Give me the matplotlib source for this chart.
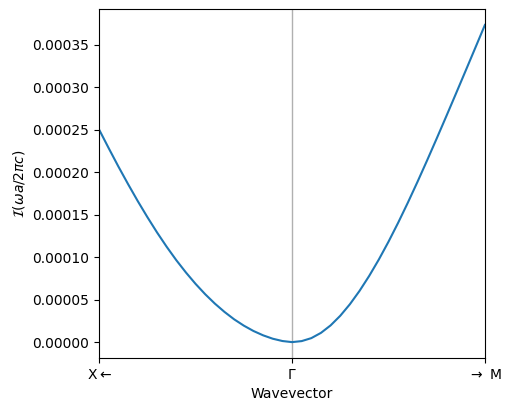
import numpy as np
import matplotlib
matplotlib.use("Agg")
import matplotlib.pyplot as plt

# path coordinate: X (-1) -> Gamma (0) -> M (1)
k_xg = [-1.00, -0.95, -0.90, -0.85, -0.80, -0.75, -0.70, -0.65, -0.60, -0.55, -0.50,
        -0.45, -0.40, -0.35, -0.30, -0.25, -0.20, -0.15, -0.10, -0.05, 0.00]
im_xg = [2.500e-4, 2.280e-4, 2.065e-4, 1.859e-4, 1.660e-4, 1.471e-4, 1.291e-4, 1.122e-4,
         9.64e-5, 8.19e-5, 6.85e-5, 5.63e-5, 4.53e-5, 3.55e-5, 2.68e-5, 1.94e-5, 1.31e-5,
         8.0e-6, 4.0e-6, 1.3e-6, 0.0]
k_gm = [0.00, 0.05, 0.10, 0.15, 0.20, 0.25, 0.30, 0.35, 0.40, 0.45, 0.50,
        0.55, 0.60, 0.65, 0.70, 0.75, 0.80, 0.85, 0.90, 0.95, 1.00]
im_gm = [0.0, 1.2e-6, 4.7e-6, 1.09e-5, 1.97e-5, 3.10e-5, 4.46e-5, 6.03e-5, 7.79e-5,
         9.72e-5, 1.181e-4, 1.404e-4, 1.639e-4, 1.884e-4, 2.137e-4, 2.396e-4, 2.659e-4,
         2.925e-4, 3.193e-4, 3.462e-4, 3.732e-4]

tick_pos = [-1, 0, 1]
tick_labels = [r"X$\leftarrow$", r"$\Gamma$", r"$\rightarrow$ M"]

k = np.array(k_xg + k_gm[1:])
im = np.array(im_xg + im_gm[1:])

fig, ax = plt.subplots(figsize=(5.11, 4.11), dpi=100)
fig.subplots_adjust(left=0.194, right=0.949, top=0.978, bottom=0.129)

ax.axvline(0, color="#b0b0b0", lw=1)
ax.plot(k, im, color="#1f77b4", lw=1.5)

ax.set_xlim(-1, 1)
ax.set_xticks(tick_pos)
ax.set_xticklabels(tick_labels)
ax.set_xlabel("Wavevector")
ax.set_ylabel(r"$\mathcal{I}(\omega a/2\pi c)$")

fig.savefig("out.png", dpi=100)
